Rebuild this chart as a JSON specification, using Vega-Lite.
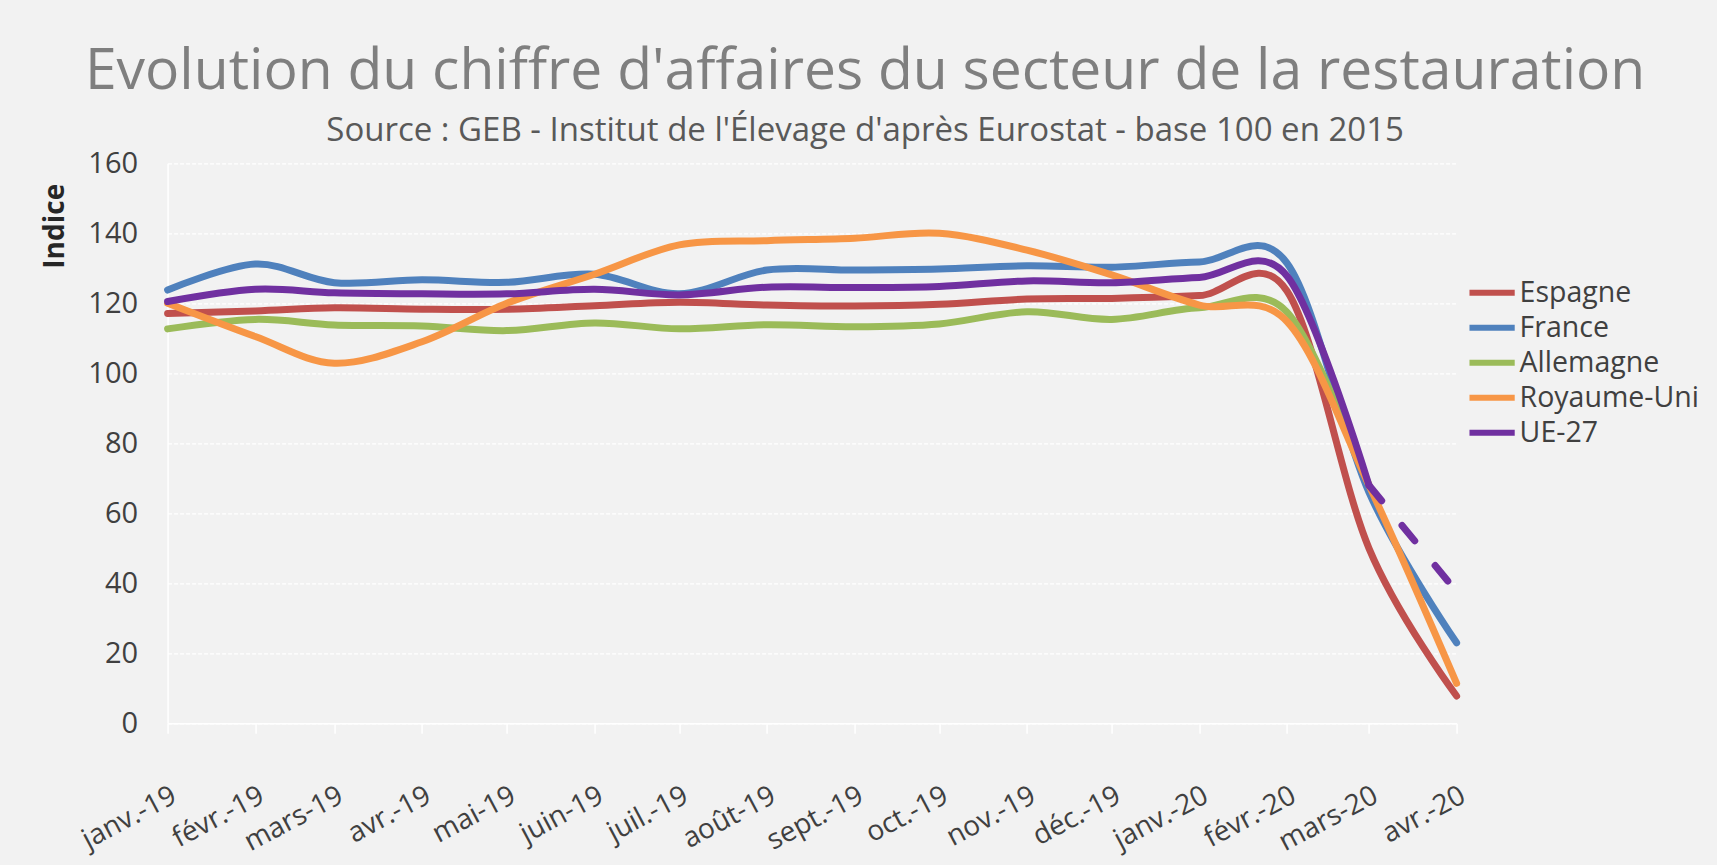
{
  "$schema": "https://vega.github.io/schema/vega-lite/v6.json",
  "width": 1289,
  "height": 560,
  "autosize": {"type": "none"},
  "padding": {"left": 167.6, "top": 163.3, "right": 260.4, "bottom": 141.7},
  "background": "#f2f2f2",
  "title": {
    "text": "Evolution du chiffre d'affaires du secteur de la restauration",
    "subtitle": "Source : GEB - Institut de l'Élevage d'après Eurostat - base 100 en 2015",
    "anchor": "middle",
    "dx": 53,
    "font": "Open Sans",
    "fontSize": 57,
    "fontWeight": "normal",
    "color": "#7f7f7f",
    "subtitleFont": "Open Sans",
    "subtitleFontSize": 33,
    "subtitleColor": "#595959",
    "subtitlePadding": 14,
    "offset": 0
  },
  "config": {
    "view": {"stroke": null},
    "axis": {"labelFont": "Open Sans", "titleFont": "Open Sans"}
  },
  "datasets": {
    "main": [
      {"m": "2019-01-01", "s": "Espagne", "v": 117.1},
      {"m": "2019-02-01", "s": "Espagne", "v": 117.8},
      {"m": "2019-03-01", "s": "Espagne", "v": 118.7},
      {"m": "2019-04-01", "s": "Espagne", "v": 118.3},
      {"m": "2019-05-01", "s": "Espagne", "v": 118.3},
      {"m": "2019-06-01", "s": "Espagne", "v": 119.3},
      {"m": "2019-07-01", "s": "Espagne", "v": 120.3},
      {"m": "2019-08-01", "s": "Espagne", "v": 119.5},
      {"m": "2019-09-01", "s": "Espagne", "v": 119.2},
      {"m": "2019-10-01", "s": "Espagne", "v": 119.7},
      {"m": "2019-11-01", "s": "Espagne", "v": 121.2},
      {"m": "2019-12-01", "s": "Espagne", "v": 121.4},
      {"m": "2020-01-01", "s": "Espagne", "v": 122.2},
      {"m": "2020-02-01", "s": "Espagne", "v": 123.5},
      {"m": "2020-03-01", "s": "Espagne", "v": 50},
      {"m": "2020-04-01", "s": "Espagne", "v": 7.8},
      {"m": "2019-01-01", "s": "France", "v": 123.8},
      {"m": "2019-02-01", "s": "France", "v": 131.2},
      {"m": "2019-03-01", "s": "France", "v": 125.9},
      {"m": "2019-04-01", "s": "France", "v": 126.7},
      {"m": "2019-05-01", "s": "France", "v": 126.0},
      {"m": "2019-06-01", "s": "France", "v": 128.3},
      {"m": "2019-07-01", "s": "France", "v": 122.7},
      {"m": "2019-08-01", "s": "France", "v": 129.5},
      {"m": "2019-09-01", "s": "France", "v": 129.5},
      {"m": "2019-10-01", "s": "France", "v": 129.8},
      {"m": "2019-11-01", "s": "France", "v": 130.7},
      {"m": "2019-12-01", "s": "France", "v": 130.3},
      {"m": "2020-01-01", "s": "France", "v": 131.8},
      {"m": "2020-02-01", "s": "France", "v": 131.5},
      {"m": "2020-03-01", "s": "France", "v": 66},
      {"m": "2020-04-01", "s": "France", "v": 23},
      {"m": "2019-01-01", "s": "Allemagne", "v": 112.7},
      {"m": "2019-02-01", "s": "Allemagne", "v": 115.4},
      {"m": "2019-03-01", "s": "Allemagne", "v": 113.8},
      {"m": "2019-04-01", "s": "Allemagne", "v": 113.5},
      {"m": "2019-05-01", "s": "Allemagne", "v": 112.2},
      {"m": "2019-06-01", "s": "Allemagne", "v": 114.4},
      {"m": "2019-07-01", "s": "Allemagne", "v": 112.7},
      {"m": "2019-08-01", "s": "Allemagne", "v": 113.9},
      {"m": "2019-09-01", "s": "Allemagne", "v": 113.3},
      {"m": "2019-10-01", "s": "Allemagne", "v": 114.1},
      {"m": "2019-11-01", "s": "Allemagne", "v": 117.6},
      {"m": "2019-12-01", "s": "Allemagne", "v": 115.4},
      {"m": "2020-01-01", "s": "Allemagne", "v": 118.7},
      {"m": "2020-02-01", "s": "Allemagne", "v": 117.5},
      {"m": "2020-03-01", "s": "Allemagne", "v": 68},
      {"m": "2019-01-01", "s": "Royaume-Uni", "v": 120},
      {"m": "2019-02-01", "s": "Royaume-Uni", "v": 110.5},
      {"m": "2019-03-01", "s": "Royaume-Uni", "v": 102.9},
      {"m": "2019-04-01", "s": "Royaume-Uni", "v": 109},
      {"m": "2019-05-01", "s": "Royaume-Uni", "v": 120},
      {"m": "2019-06-01", "s": "Royaume-Uni", "v": 128.3},
      {"m": "2019-07-01", "s": "Royaume-Uni", "v": 136.7},
      {"m": "2019-08-01", "s": "Royaume-Uni", "v": 137.9},
      {"m": "2019-09-01", "s": "Royaume-Uni", "v": 138.6},
      {"m": "2019-10-01", "s": "Royaume-Uni", "v": 140},
      {"m": "2019-11-01", "s": "Royaume-Uni", "v": 135.2},
      {"m": "2019-12-01", "s": "Royaume-Uni", "v": 128.1},
      {"m": "2020-01-01", "s": "Royaume-Uni", "v": 119.5},
      {"m": "2020-02-01", "s": "Royaume-Uni", "v": 114.8},
      {"m": "2020-03-01", "s": "Royaume-Uni", "v": 68},
      {"m": "2020-04-01", "s": "Royaume-Uni", "v": 11.4},
      {"m": "2019-01-01", "s": "UE-27", "v": 120.5},
      {"m": "2019-02-01", "s": "UE-27", "v": 124},
      {"m": "2019-03-01", "s": "UE-27", "v": 123},
      {"m": "2019-04-01", "s": "UE-27", "v": 122.7},
      {"m": "2019-05-01", "s": "UE-27", "v": 122.7},
      {"m": "2019-06-01", "s": "UE-27", "v": 124},
      {"m": "2019-07-01", "s": "UE-27", "v": 122.4},
      {"m": "2019-08-01", "s": "UE-27", "v": 124.6},
      {"m": "2019-09-01", "s": "UE-27", "v": 124.5},
      {"m": "2019-10-01", "s": "UE-27", "v": 124.8},
      {"m": "2019-11-01", "s": "UE-27", "v": 126.4},
      {"m": "2019-12-01", "s": "UE-27", "v": 125.9},
      {"m": "2020-01-01", "s": "UE-27", "v": 127.4},
      {"m": "2020-02-01", "s": "UE-27", "v": 127.8},
      {"m": "2020-03-01", "s": "UE-27", "v": 68}
    ],
    "estimate": [
      {"m": "2020-03-01", "s": "UE-27", "v": 68},
      {"m": "2020-04-01", "s": "UE-27", "v": 37.6}
    ]
  },
  "encoding": {
    "x": {
      "field": "m",
      "type": "temporal",
      "scale": {"type": "utc", "domain": ["2019-01-01", "2020-04-01"]},
      "axis": {
        "title": null,
        "tickCount": {"interval": "month", "step": 1},
        "labelExpr": "['janv.','févr.','mars','avr.','mai','juin','juil.','août','sept.','oct.','nov.','déc.'][utcmonth(datum.value)] + '-' + utcFormat(datum.value, '%y')",
        "labelAngle": -28,
        "labelAlign": "right",
        "labelBaseline": "top",
        "labelPadding": 48,
        "labelFontSize": 28,
        "labelColor": "#404040",
        "labelOverlap": false,
        "labelFlush": false,
        "labelBound": false,
        "grid": false,
        "domainColor": "#ffffff",
        "domainWidth": 1.5,
        "tickColor": "#ffffff",
        "tickWidth": 1.5,
        "tickSize": 10
      }
    },
    "y": {
      "field": "v",
      "type": "quantitative",
      "scale": {"domain": [0, 160], "nice": false, "zero": true},
      "axis": {
        "title": "Indice",
        "titleFontSize": 28,
        "titleFontWeight": "bold",
        "titleColor": "#262626",
        "titleAngle": -90,
        "titleAlign": "right",
        "titleBaseline": "alphabetic",
        "titleX": -104,
        "titleY": 20,
        "values": [0, 20, 40, 60, 80, 100, 120, 140, 160],
        "labelFontSize": 29,
        "labelColor": "#404040",
        "labelPadding": 30,
        "ticks": false,
        "domainColor": "#ffffff",
        "domainWidth": 1.5,
        "gridColor": "#ffffff",
        "gridDash": [4, 2],
        "gridWidth": 1.2
      }
    },
    "color": {
      "field": "s",
      "type": "nominal",
      "scale": {
        "domain": ["Espagne", "France", "Allemagne", "Royaume-Uni", "UE-27"],
        "range": ["#C0504D", "#4F81BD", "#9BBB59", "#F79646", "#7030A0"]
      },
      "legend": {
        "title": null,
        "orient": "none",
        "legendX": 1304,
        "legendY": 109,
        "symbolType": "M-1.3,0H1.3",
        "symbolSize": 1211,
        "symbolStrokeWidth": 6,
        "labelFont": "Open Sans",
        "labelFontSize": 28.5,
        "labelColor": "#404040",
        "labelOffset": 7,
        "labelLimit": 400,
        "rowPadding": 0
      }
    }
  },
  "layer": [
    {
      "data": {"name": "main"},
      "mark": {"type": "line", "interpolate": "cardinal", "strokeWidth": 7, "strokeCap": "round", "strokeJoin": "round"}
    },
    {
      "data": {"name": "estimate"},
      "mark": {"type": "line", "strokeWidth": 7, "strokeCap": "round", "strokeDash": [20, 32]}
    }
  ]
}
